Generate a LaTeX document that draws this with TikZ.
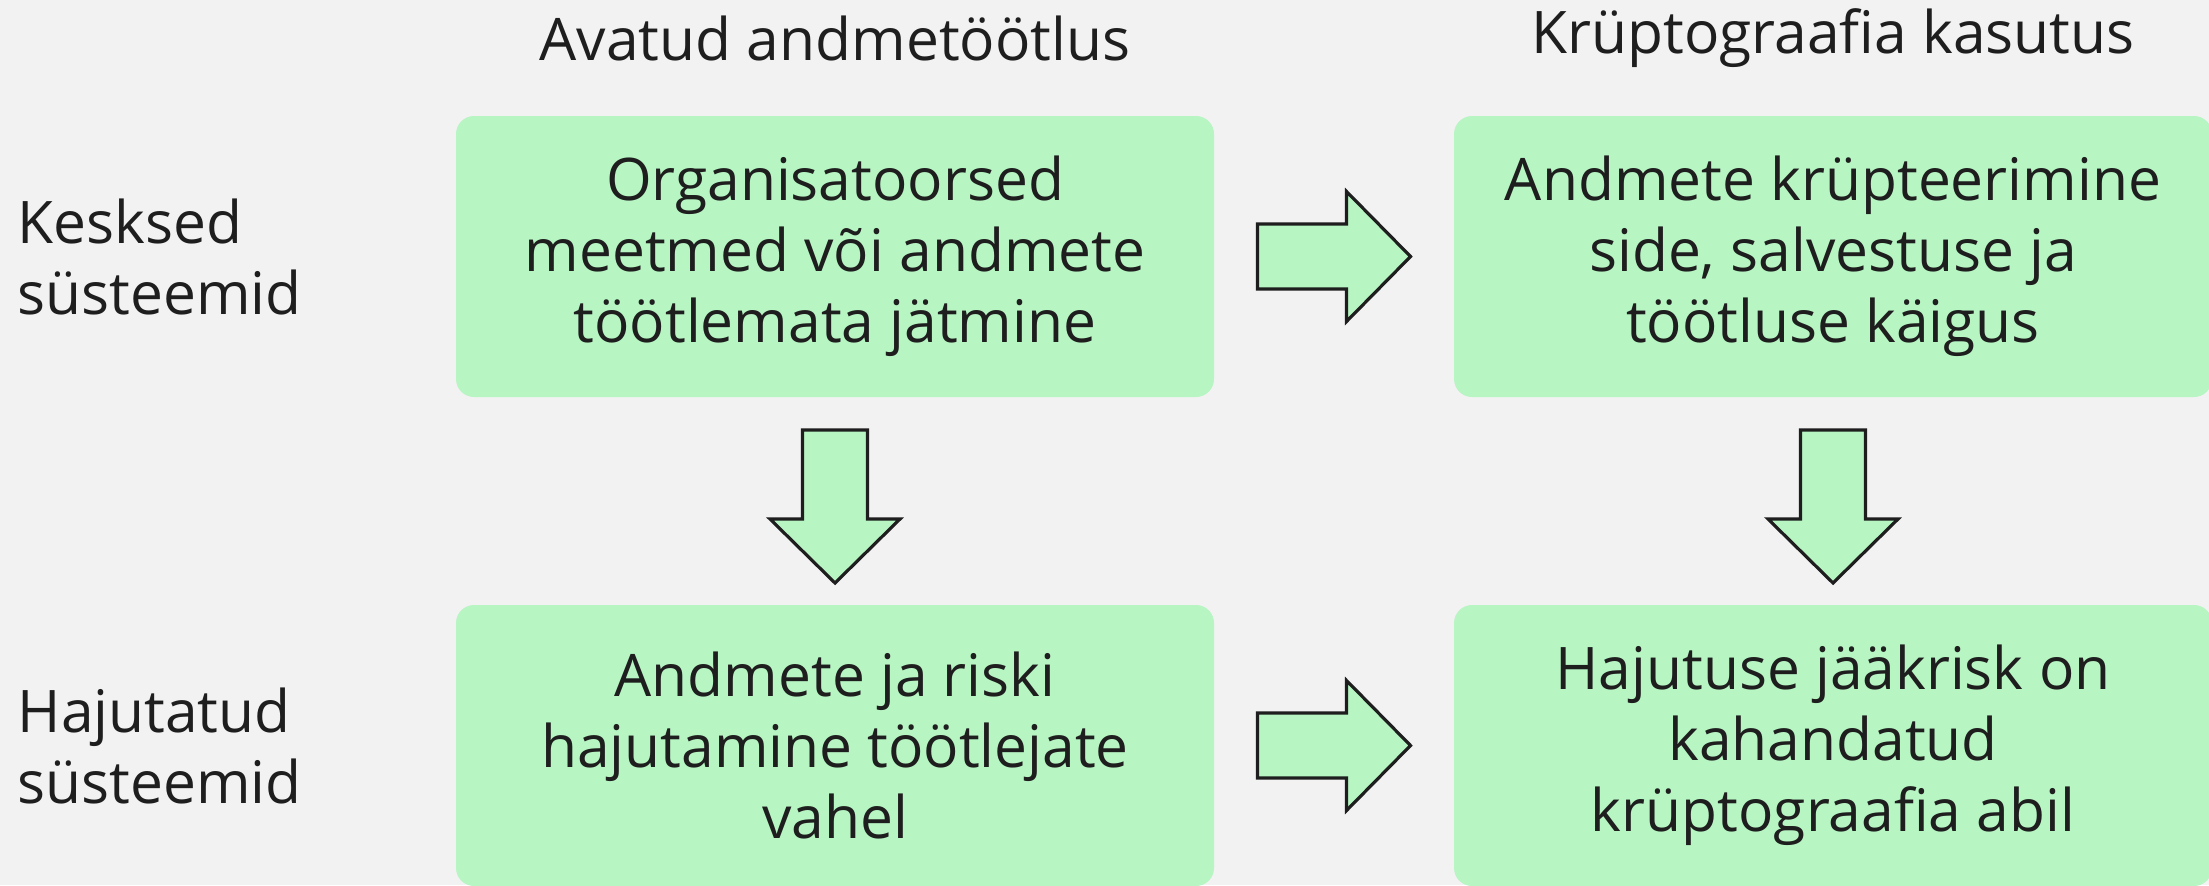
\documentclass[tikz,border=0pt]{standalone}
\usepackage{fontspec}
\setmainfont{Open Sans}
\usetikzlibrary{calc}

\definecolor{bgcol}{HTML}{F2F2F2}
\definecolor{boxcol}{HTML}{B7F5C3}
\definecolor{inkcol}{HTML}{1E1E1E}

\tikzset{
  stepbox/.style={fill=boxcol, rounded corners=0.18cm, minimum width=7.58cm,
    minimum height=2.81cm, align=center, text=inkcol, inner sep=0pt},
  headtext/.style={text=inkcol, align=center, inner sep=0pt},
  rowtext/.style={text=inkcol, align=left, anchor=west, inner sep=0pt},
  blockarrow/.pic={
    \draw[fill=boxcol, draw=inkcol, line width=0.9pt, line join=miter]
      (-0.765,-0.325) -- (0.125,-0.325) -- (0.125,-0.65) -- (0.765,0)
      -- (0.125,0.65) -- (0.125,0.325) -- (-0.765,0.325) -- cycle;
  }
}

\begin{document}
\begin{tikzpicture}[font=\fontsize{16.7}{20.2}\selectfont]
\fill[bgcol] (0,0) rectangle (22.09,8.85);
\useasboundingbox (0,0) rectangle (22.09,8.85);
\begin{scope}[shift={(0.000,0.000)}]
% column heads
\node[headtext] (hopen) at (8.35,8.47) {Avatud andmetöötlus};
\node[headtext] (hcrypt) at (18.33,8.47) {Krüptograafia kasutus};
% row heads
\node[rowtext] (rcentral) at (0.17,6.285) {Kesksed\\süsteemid};
\node[rowtext] (rdistrib) at (0.17,1.395) {Hajutatud\\süsteemid};
% boxes
\node[stepbox] (org) at (8.35,6.285) {Organisatoorsed\\meetmed või andmete\\töötlemata jätmine};
\node[stepbox] (enc) at (18.33,6.285) {Andmete krüpteerimine\\side, salvestuse ja\\töötluse käigus};
\node[stepbox] (spread) at (8.35,1.395) {Andmete ja riski\\hajutamine töötlejate\\vahel};
\node[stepbox] (resid) at (18.33,1.395) {Hajutuse jääkrisk on\\kahandatud\\krüptograafia abil};
% arrows
\pic at ($(org.east)!0.5!(enc.west)$) {blockarrow};
\pic at ($(spread.east)!0.5!(resid.west)$) {blockarrow};
\pic[rotate=-90] at ($(org.south)!0.5!(spread.north)+(0,-0.055)$) {blockarrow};
\pic[rotate=-90] at ($(enc.south)!0.5!(resid.north)+(0,-0.055)$) {blockarrow};
\end{scope}
\end{tikzpicture}
\end{document}
